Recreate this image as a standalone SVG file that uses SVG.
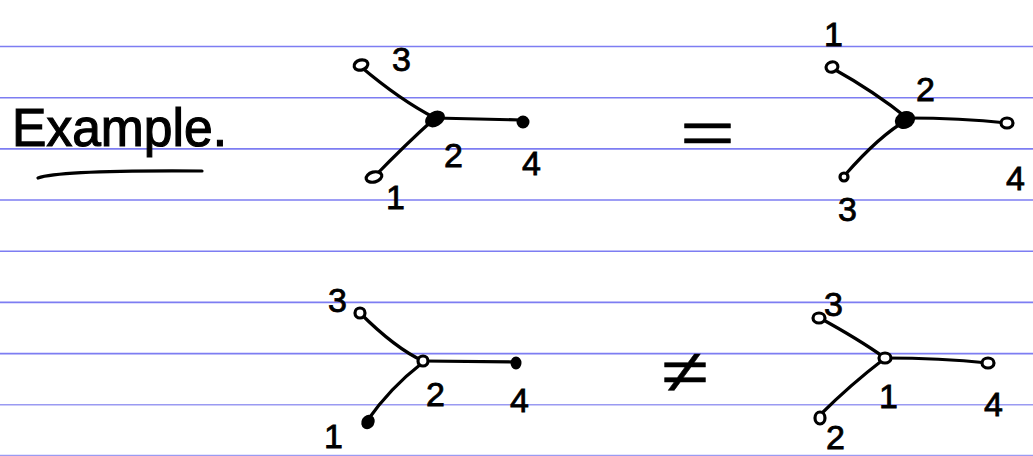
<svg xmlns="http://www.w3.org/2000/svg" width="1033" height="456" viewBox="0 0 1033 456">
<style>
.rule{stroke:#7d7df2;stroke-width:1.6}
.rule2{stroke:#9a9af2;stroke-width:1.6}
.edge{fill:none;stroke:#000;stroke-width:3.2;stroke-linecap:round}
.open{fill:#fff;stroke:#000;stroke-width:3.2}
.solid{fill:#000;stroke:#000;stroke-width:3}
.lbl{font-family:"Liberation Sans",Arial,sans-serif;font-size:34px;fill:#000;stroke:#000;stroke-width:0.8}
.sym{font-family:"Liberation Sans",Arial,sans-serif;font-size:60px;fill:#000;stroke:#000;stroke-width:0.4}
</style>
<rect width="1033" height="456" fill="#fff"/>
<g id="rules">
<line class="rule" x1="0" y1="46.5" x2="1033" y2="46.5"/>
<line class="rule" x1="0" y1="97.7" x2="1033" y2="97.7"/>
<line class="rule" x1="0" y1="148.9" x2="1033" y2="148.9"/>
<line class="rule" x1="0" y1="200" x2="1033" y2="200"/>
<line class="rule" x1="0" y1="251.2" x2="1033" y2="251.2"/>
<line class="rule" x1="0" y1="302.4" x2="1033" y2="302.4"/>
<line class="rule" x1="0" y1="353.6" x2="1033" y2="353.6"/>
<line class="rule2" x1="0" y1="404.8" x2="1033" y2="404.8"/>
<line class="rule2" x1="0" y1="455.5" x2="1033" y2="455.5"/>
</g>
<g id="title">
<text x="12" y="146" font-family="Liberation Sans,Arial,sans-serif" font-size="54" stroke="#000" stroke-width="1.2" textLength="215" lengthAdjust="spacingAndGlyphs">Example.</text>
<path class="edge" d="M38 178 Q60 170 202 171"/>
</g>
<g id="connectors">
<path class="edge" d="M360 66 Q400 100 435 118"/>
<path class="edge" d="M435 118 L521 120"/>
<path class="edge" d="M375 176 Q405 145 435 118"/>
<path class="edge" d="M832 68 Q875 92 907 118"/>
<path class="edge" d="M907 118 Q960 118 1007 123"/>
<path class="edge" d="M845 175 Q880 135 907 120"/>
<path class="edge" d="M360 313 Q395 348 423 361"/>
<path class="edge" d="M423 361 L515 362"/>
<path class="edge" d="M367 421 Q390 388 421 364"/>
<path class="edge" d="M818 317 Q860 340 885 358"/>
<path class="edge" d="M885 358 Q940 358 988 363"/>
<path class="edge" d="M820 415 Q850 385 884 359"/>
</g>
<g id="relations">
<text class="sym" x="680" y="153" textLength="55" lengthAdjust="spacingAndGlyphs">=</text>
<text class="sym" x="662" y="392" textLength="46" lengthAdjust="spacingAndGlyphs">≠</text>
</g>
<g id="tree1">
<ellipse class="open" cx="361" cy="65" rx="7" ry="5" transform="rotate(-15 361 65)"/>
<ellipse class="solid" cx="435" cy="119" rx="9" ry="6" transform="rotate(-30 435 119)"/>
<ellipse class="solid" cx="523" cy="122" rx="5" ry="5"/>
<ellipse class="open" cx="374" cy="177" rx="8" ry="5" transform="rotate(-15 374 177)"/>
<text class="lbl" x="392" y="71">3</text>
<text class="lbl" x="444" y="167">2</text>
<text class="lbl" x="522" y="175">4</text>
<text class="lbl" x="386" y="209">1</text>
</g>
<g id="tree2">
<ellipse class="open" cx="832" cy="67" rx="6" ry="5" transform="rotate(-20 832 67)"/>
<ellipse class="solid" cx="905" cy="120" rx="9" ry="7" transform="rotate(-25 905 120)"/>
<ellipse class="open" cx="1007" cy="123" rx="6" ry="5"/>
<ellipse class="open" cx="844" cy="177" rx="4" ry="4"/>
<text class="lbl" x="824" y="46">1</text>
<text class="lbl" x="916" y="101">2</text>
<text class="lbl" x="1006" y="190">4</text>
<text class="lbl" x="838" y="221">3</text>
</g>
<g id="tree3">
<ellipse class="open" cx="360" cy="313" rx="5" ry="5"/>
<ellipse class="open" cx="423" cy="361" rx="5" ry="5"/>
<ellipse class="solid" cx="516" cy="363" rx="4" ry="5"/>
<ellipse class="solid" cx="368" cy="422" rx="5" ry="6" transform="rotate(30 368 422)"/>
<text class="lbl" x="328" y="312">3</text>
<text class="lbl" x="426" y="406">2</text>
<text class="lbl" x="510" y="412">4</text>
<text class="lbl" x="324" y="448" font-size="28">1</text>
</g>
<g id="tree4">
<ellipse class="open" cx="819" cy="318" rx="6" ry="5"/>
<ellipse class="open" cx="885" cy="358" rx="6" ry="5"/>
<ellipse class="open" cx="988" cy="363" rx="6" ry="5"/>
<ellipse class="open" cx="820" cy="418" rx="5" ry="6"/>
<text class="lbl" x="824" y="316">3</text>
<text class="lbl" x="879" y="408">1</text>
<text class="lbl" x="984" y="416">4</text>
<text class="lbl" x="826" y="449" font-size="26">2</text>
</g>
</svg>
